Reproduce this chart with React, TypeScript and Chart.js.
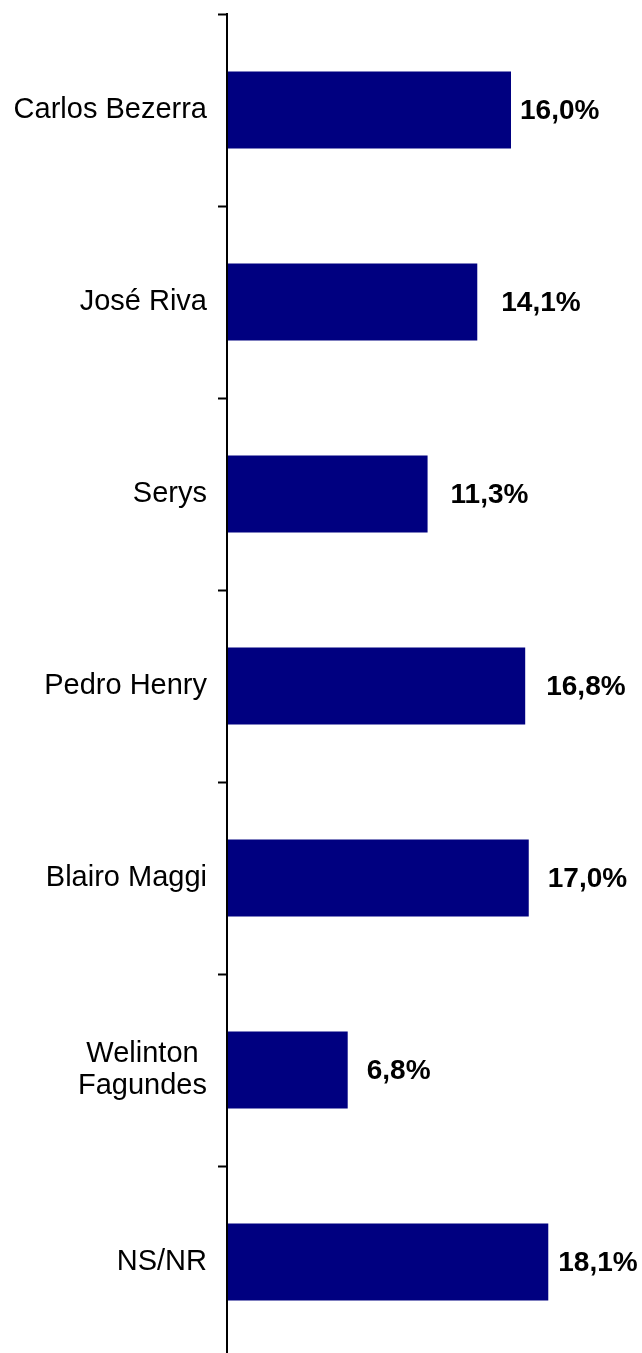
import React, { useEffect, useRef } from "react";
import { Chart, registerables } from "chart.js";

Chart.register(...registerables);

const categories: (string | string[])[] = [
  "Carlos Bezerra",
  "José Riva",
  "Serys",
  "Pedro Henry",
  "Blairo Maggi",
  ["Welinton", "Fagundes"],
  "NS/NR",
];
const values: number[] = [16.0, 14.1, 11.3, 16.8, 17.0, 6.8, 18.1];
const valueLabels: string[] = ["16,0%", "14,1%", "11,3%", "16,8%", "17,0%", "6,8%", "18,1%"];

const FONT = "'Liberation Sans', Arial, Helvetica, sans-serif";

const labelPlugin = {
  id: "customLabels",
  afterDraw(chart: any, _args: any, opts: any) {
    const ctx = chart.ctx;
    const yScale = chart.scales.y;
    const meta = chart.getDatasetMeta(0);
    const gaps: number[] = opts.gaps || [];
    ctx.save();
    ctx.fillStyle = "#000000";
    ctx.textBaseline = "middle";
    // category labels
    ctx.font = `29px ${FONT}`;
    const rightX = yScale.right - 20;
    categories.forEach((lab, i) => {
      const y = yScale.getPixelForValue(i);
      if (Array.isArray(lab)) {
        const widths = lab.map((l) => ctx.measureText(l).width);
        const maxW = Math.max(...widths);
        const cx = rightX - maxW / 2;
        const lh = 32;
        const startY = y - ((lab.length - 1) * lh) / 2;
        ctx.textAlign = "center";
        lab.forEach((l, j) => ctx.fillText(l, cx, startY + j * lh));
      } else {
        ctx.textAlign = "right";
        ctx.fillText(lab, rightX, y);
      }
    });
    // value labels
    ctx.font = `bold 28px ${FONT}`;
    ctx.textAlign = "left";
    meta.data.forEach((bar: any, i: number) => {
      const g = gaps[i] !== undefined ? gaps[i] : 12;
      ctx.fillText(valueLabels[i], bar.x + g, bar.y + 1);
    });
    ctx.restore();
  },
};

export default function App() {
  const canvasRef = useRef<HTMLCanvasElement>(null);

  useEffect(() => {
    if (!canvasRef.current) return;
    const chart = new Chart(canvasRef.current, {
      type: "bar",
      data: {
        labels: categories as any,
        datasets: [
          {
            data: values,
            backgroundColor: "#000080",
            borderWidth: 0,
            barPercentage: 0.4,
            categoryPercentage: 1.0,
          },
        ],
      },
      options: {
        indexAxis: "y",
        animation: false,
        responsive: true,
        maintainAspectRatio: false,
        layout: { padding: { top: 14, bottom: 12, left: 0, right: 0 } },
        plugins: {
          legend: { display: false },
          tooltip: { enabled: false },
          customLabels: { gaps: [9, 24, 23, 21, 19, 19, 10] },
        } as any,
        scales: {
          x: {
            display: false,
            min: 0,
            max: 23.38,
          },
          y: {
            afterFit: (scale: any) => {
              scale.width = 227;
            },
            grid: {
              display: true,
              drawOnChartArea: false,
              drawTicks: true,
              tickLength: 9,
              tickWidth: 2,
              tickColor: "#000000",
              color: "#000000",
              offset: true,
            },
            border: { display: true, color: "#000000", width: 2, z: 1 },
            ticks: { display: true, color: "rgba(0,0,0,0)", font: { size: 10 } },
          },
        },
      },
      plugins: [labelPlugin],
    });
    return () => chart.destroy();
  }, []);

  return (
    <div style={{ position: "absolute", left: 0, top: 0, width: 642, height: 1370, background: "#ffffff" }}>
      <canvas ref={canvasRef} />
    </div>
  );
}
